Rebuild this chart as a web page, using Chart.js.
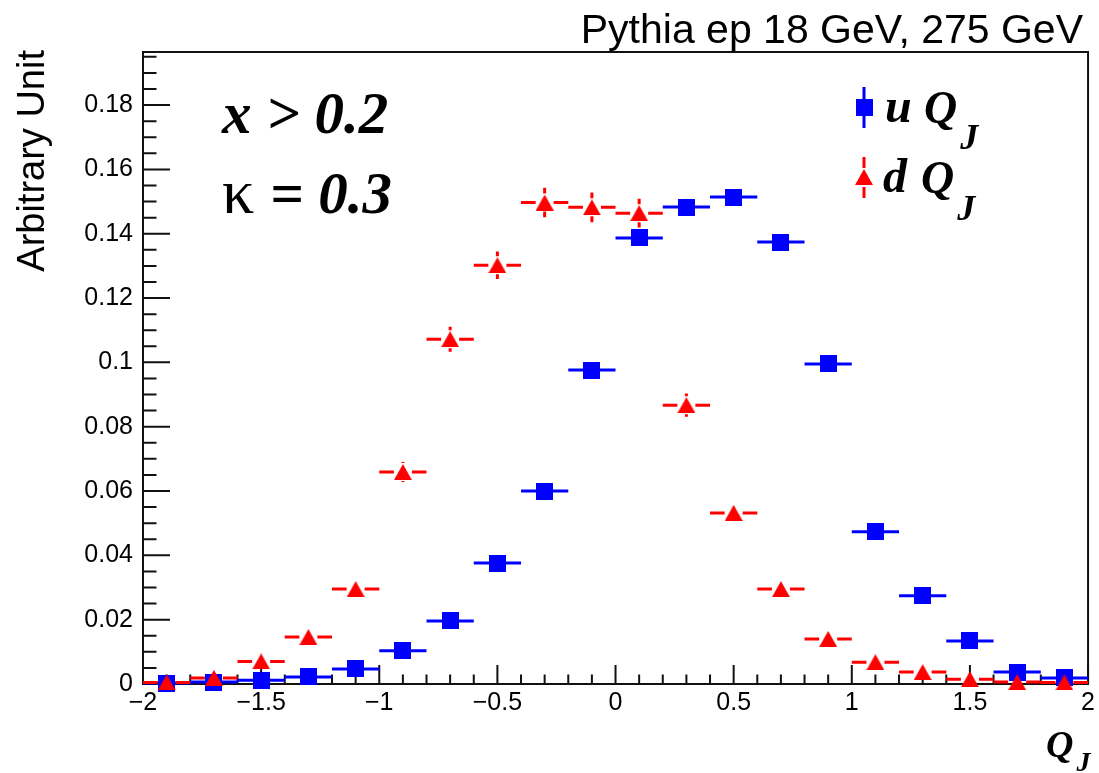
<!DOCTYPE html>
<html>
<head>
<meta charset="utf-8">
<script src="https://cdn.jsdelivr.net/npm/chart.js@4.4.1/dist/chart.umd.min.js"></script>
<style>
  html, body { margin: 0; padding: 0; background: #fff; }
  #wrap { width: 1099px; height: 773px; }
</style>
</head>
<body>
<div id="wrap"><canvas id="myChart" width="1099" height="773"></canvas></div>
<script>
// bin centres of the Q_J histograms (bin width 0.2)
const qBins = [-1.9, -1.7, -1.5, -1.3, -1.1, -0.9, -0.7, -0.5, -0.3, -0.1,
               0.1, 0.3, 0.5, 0.7, 0.9, 1.1, 1.3, 1.5, 1.7, 1.9];
const binHalf = 0.1;

// u-quark jets
const uVals = [0.0003, 0.0006, 0.0012, 0.0022, 0.0047, 0.0103, 0.0196, 0.0376, 0.0600, 0.0976,
               0.1387, 0.1483, 0.1514, 0.1374, 0.0995, 0.0473, 0.0274, 0.0134, 0.0037, 0.0019];
const uErr  = [0.0001, 0.0002, 0.0002, 0.0003, 0.0004, 0.0007, 0.0009, 0.0013, 0.0016, 0.0020,
               0.0024, 0.0025, 0.0025, 0.0024, 0.0020, 0.0014, 0.0010, 0.0007, 0.0004, 0.0003];

// d-quark jets
const dVals = [0.0005, 0.0019, 0.0070, 0.0146, 0.0295, 0.0659, 0.1072, 0.1302, 0.1497, 0.1482,
               0.1464, 0.0867, 0.0532, 0.0295, 0.0140, 0.0068, 0.0037, 0.0015, 0.0006, 0.0005];
const dErr  = [0.0003, 0.0005, 0.0010, 0.0015, 0.0021, 0.0031, 0.0039, 0.0043, 0.0046, 0.0046,
               0.0045, 0.0036, 0.0028, 0.0021, 0.0014, 0.0010, 0.0007, 0.0005, 0.0003, 0.0003];

const xTicks  = [-2, -1.5, -1, -0.5, 0, 0.5, 1, 1.5, 2];
const xLabels = ['\u22122', '\u22121.5', '\u22121', '\u22120.5', '0', '0.5', '1', '1.5', '2'];
const yTicks  = [0, 0.02, 0.04, 0.06, 0.08, 0.1, 0.12, 0.14, 0.16, 0.18];
const yLabels = ['0', '0.02', '0.04', '0.06', '0.08', '0.1', '0.12', '0.14', '0.16', '0.18'];
const yMax = 0.1965;

const BLUE = '#0000ff';
const RED = '#ff0000';

// ROOT style markers: full square (21) and full triangle (22)
function makeSquare(color) {
    const c = document.createElement('canvas');
    c.width = 17; c.height = 17;
    const g = c.getContext('2d');
    g.fillStyle = color;
    g.fillRect(0, 0, 17, 17);
    return c;
}
function makeTriangle(color) {
    const c = document.createElement('canvas');
    c.width = 18; c.height = 16;
    const g = c.getContext('2d');
    g.fillStyle = color;
    g.beginPath();
    g.moveTo(9, 0); g.lineTo(18, 16); g.lineTo(0, 16);
    g.closePath();
    g.fill();
    return c;
}
const uMarker = makeSquare(BLUE);
const dMarker = makeTriangle(RED);

function points(vals) {
    return qBins.map((q, i) => ({ x: q, y: vals[i] }));
}

// frame + inward ticks like a ROOT TFrame
const rootFrame = {
    id: 'rootFrame',
    beforeDatasetsDraw(chart) {
        const { ctx, chartArea: a, scales: { x, y } } = chart;
        ctx.save();
        ctx.strokeStyle = '#111';
        ctx.lineWidth = 2;
        ctx.strokeRect(a.left, a.top, a.right - a.left, a.bottom - a.top);
        ctx.beginPath();
        for (let i = 0; i <= 40; i++) {
            const px = x.getPixelForValue(-2 + i * 0.1);
            const len = i % 5 === 0 ? 19 : 9.5;
            ctx.moveTo(px, a.bottom);
            ctx.lineTo(px, a.bottom - len);
        }
        for (let i = 0; i * 0.005 <= yMax; i++) {
            const py = y.getPixelForValue(i * 0.005);
            const len = i % 4 === 0 ? 27 : 13.5;
            ctx.moveTo(a.left, py);
            ctx.lineTo(a.left + len, py);
        }
        ctx.stroke();
        ctx.restore();
    }
};

// horizontal bin-width bars and vertical stat errors, with a gap for the marker
const errorBars = {
    id: 'errorBars',
    beforeDatasetsDraw(chart) {
        const { ctx, scales: { x, y } } = chart;
        chart.data.datasets.forEach(ds => {
            ctx.save();
            ctx.strokeStyle = ds.borderColor;
            ctx.lineWidth = 3;
            ctx.beginPath();
            ds.data.forEach((p, i) => {
                const px = x.getPixelForValue(p.x);
                const py = y.getPixelForValue(p.y);
                const xl = x.getPixelForValue(p.x - binHalf);
                const xr = x.getPixelForValue(p.x + binHalf);
                const yt = y.getPixelForValue(p.y + ds.errs[i]);
                const yb = y.getPixelForValue(p.y - ds.errs[i]);
                ctx.moveTo(xl, py); ctx.lineTo(px - ds.gap, py);
                ctx.moveTo(px + ds.gap, py); ctx.lineTo(xr, py);
                if (py - yt > ds.gap) {
                    ctx.moveTo(px, py - ds.gap); ctx.lineTo(px, yt);
                    ctx.moveTo(px, py + ds.gap); ctx.lineTo(px, yb);
                }
            });
            ctx.stroke();
            ctx.restore();
        });
    }
};

function drawQJ(ctx, x, base, size, subSize, drop) {
    ctx.font = 'italic bold ' + size + 'px "Liberation Serif"';
    ctx.fillText('Q', x, base);
    const w = ctx.measureText('Q').width;
    ctx.font = 'italic bold ' + subSize + 'px "Liberation Serif"';
    ctx.fillText('J', x + w + 3, base + drop);
}

const texts = {
    id: 'texts',
    afterDraw(chart) {
        const ctx = chart.ctx;
        ctx.save();
        ctx.fillStyle = '#000';
        ctx.textBaseline = 'alphabetic';

        // top title
        ctx.textAlign = 'right';
        ctx.font = '41px "Liberation Sans"';
        ctx.fillText('Pythia ep 18 GeV, 275 GeV', 1083, 43);

        // y axis title
        ctx.save();
        ctx.translate(44, 50);
        ctx.rotate(-Math.PI / 2);
        ctx.font = '38px "Liberation Sans"';
        ctx.fillText('Arbitrary Unit', 0, 0);
        ctx.restore();

        ctx.textAlign = 'left';
        // x axis title
        drawQJ(ctx, 1046, 757, 38, 28, 14);

        // cuts
        ctx.font = 'italic bold 59px "Liberation Serif"';
        ctx.fillText('x > 0.2', 222, 133);
        ctx.font = '64px "Liberation Serif"';
        ctx.fillText('\u03ba', 222, 213);
        ctx.font = 'italic bold 59px "Liberation Serif"';
        ctx.fillText('= 0.3', 270, 213);

        // legend
        ctx.lineWidth = 3;
        ctx.strokeStyle = BLUE;
        ctx.beginPath(); ctx.moveTo(864, 87); ctx.lineTo(864, 128); ctx.stroke();
        ctx.drawImage(uMarker, 864 - 8.5, 107 - 8.5);
        ctx.strokeStyle = RED;
        ctx.beginPath();
        ctx.moveTo(864, 157); ctx.lineTo(864, 168);
        ctx.moveTo(864, 187); ctx.lineTo(864, 198);
        ctx.stroke();
        ctx.drawImage(dMarker, 864 - 9, 177 - 8);

        ctx.font = 'italic bold 48px "Liberation Serif"';
        ctx.fillText('u', 885, 122);
        drawQJ(ctx, 924, 123, 46, 36, 26);
        ctx.font = 'italic bold 48px "Liberation Serif"';
        ctx.fillText('d', 883, 192);
        drawQJ(ctx, 921, 193, 46, 36, 27);
        ctx.restore();
    }
};

const ctx = document.getElementById('myChart').getContext('2d');
const myChart = new Chart(ctx, {
    type: 'scatter',
    data: {
        datasets: [
            {
                label: 'u Q_J',
                data: points(uVals),
                errs: uErr,
                gap: 8,
                borderColor: BLUE,
                backgroundColor: BLUE,
                pointStyle: uMarker,
                pointRadius: 9,
                clip: false,
                order: 2
            },
            {
                label: 'd Q_J',
                data: points(dVals),
                errs: dErr,
                gap: 9,
                borderColor: RED,
                backgroundColor: RED,
                pointStyle: dMarker,
                pointRadius: 9,
                clip: false,
                order: 1
            }
        ]
    },
    options: {
        responsive: false,
        animation: false,
        devicePixelRatio: 1,
        layout: { padding: { top: 52, right: 9, left: 0, bottom: 0 } },
        plugins: {
            legend: { display: false },
            tooltip: { enabled: false }
        },
        scales: {
            x: {
                type: 'linear',
                min: -2,
                max: 2,
                grid: { display: false, drawTicks: false },
                border: { display: false },
                afterBuildTicks: s => { s.ticks = xTicks.map(v => ({ value: v })); },
                afterFit: s => { s.height = 89; },
                ticks: {
                    callback: (v, i) => xLabels[i],
                    autoSkip: false,
                    maxRotation: 0,
                    padding: 4,
                    color: '#000',
                    font: { family: 'Liberation Sans', size: 25 }
                }
            },
            y: {
                type: 'linear',
                min: 0,
                max: yMax,
                grid: { display: false, drawTicks: false },
                border: { display: false },
                afterBuildTicks: s => { s.ticks = yTicks.map(v => ({ value: v })); },
                afterFit: s => { s.width = 143; },
                ticks: {
                    callback: (v, i) => yLabels[i],
                    autoSkip: false,
                    padding: 10,
                    color: '#000',
                    font: { family: 'Liberation Sans', size: 25 }
                }
            }
        }
    },
    plugins: [rootFrame, errorBars, texts]
});
</script>
</body>
</html>
